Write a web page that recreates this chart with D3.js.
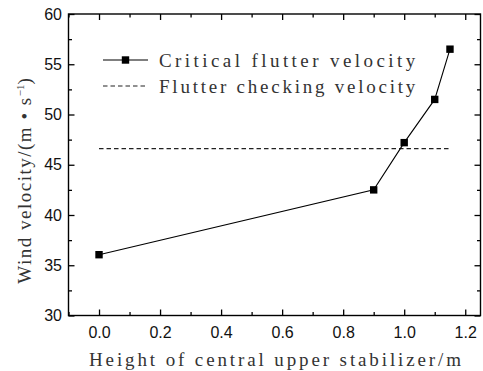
<!DOCTYPE html>
<html>
<head>
<meta charset="utf-8">
<script src="https://cdn.jsdelivr.net/npm/d3@7"></script>
<style>
  body { margin: 0; background: #fff; }
  svg { display: block; }
  .tick text { font-family: "Liberation Sans", Arial, sans-serif; }
</style>
</head>
<body>
<div id="chart"></div>
<script>
// data
var heights = [0, 0.9, 1.0, 1.1, 1.15];
var criticalVelocity = [36.05, 42.5, 47.2, 51.5, 56.5];
var checkingVelocity = 46.6;
var checkingRange = [0, 1.15];
var xTicks = [0, 0.2, 0.4, 0.6, 0.8, 1.0, 1.2];
var yTicks = [30, 35, 40, 45, 50, 55, 60];
var seriesNames = ["Critical flutter velocity", "Flutter checking velocity"];

var W = 483, H = 371;
var margin = {top: 14, right: 2.5, bottom: 55.5, left: 68.5},
    width = W - margin.left - margin.right,
    height = H - margin.top - margin.bottom;

var svg = d3.select("#chart").append("svg")
    .attr("width", W)
    .attr("height", H)
  .append("g")
    .attr("transform", "translate(" + margin.left + "," + margin.top + ")");

var x = d3.scaleLinear().domain([-0.1, 1.25]).range([0, width]);
var y = d3.scaleLinear().domain([30, 60]).range([height, 0]);

var xMinor = d3.range(-0.1, 1.26, 0.1).filter(function(v) {
  return xTicks.every(function(t) { return Math.abs(t - v) > 1e-6; });
});
var yMinor = d3.range(32.5, 60, 5);

// inward ticks on all four sides
function tickAxis(axis, vals, len, labels) {
  return axis.tickValues(vals).tickSizeInner(-len).tickSizeOuter(0)
    .tickPadding(len + 5)
    .tickFormat(labels ? null : "");
}

var gx = svg.append("g").attr("transform", "translate(0," + height + ")")
  .call(tickAxis(d3.axisBottom(x), xTicks, 6, true).tickFormat(d3.format(".1f")));
svg.append("g").attr("transform", "translate(0," + height + ")")
  .call(tickAxis(d3.axisBottom(x), xMinor, 3.5, false));
svg.append("g").call(tickAxis(d3.axisTop(x), xTicks, 6, false));
svg.append("g").call(tickAxis(d3.axisTop(x), xMinor, 3.5, false));

var gy = svg.append("g")
  .call(tickAxis(d3.axisLeft(y), yTicks, 6, true).tickFormat(d3.format("d")));
svg.append("g").call(tickAxis(d3.axisLeft(y), yMinor, 3.5, false));
svg.append("g").attr("transform", "translate(" + width + ",0)")
  .call(tickAxis(d3.axisRight(y), yTicks, 6, false));
svg.append("g").attr("transform", "translate(" + width + ",0)")
  .call(tickAxis(d3.axisRight(y), yMinor, 3.5, false));

svg.selectAll(".domain").remove();
svg.selectAll(".tick line").attr("stroke", "#000").attr("stroke-width", 1.3);
svg.selectAll(".tick text").attr("font-size", 16).attr("fill", "#111");
gx.selectAll(".tick text").attr("dy", "0.71em").attr("y", 11);
gy.selectAll(".tick text").attr("x", -6.5);

// frame
svg.append("rect")
  .attr("width", width).attr("height", height)
  .attr("fill", "none").attr("stroke", "#000").attr("stroke-width", 1.4);

// checking velocity (dashed)
svg.append("line")
  .attr("x1", x(checkingRange[0])).attr("x2", x(checkingRange[1]))
  .attr("y1", y(checkingVelocity)).attr("y2", y(checkingVelocity))
  .attr("stroke", "#222").attr("stroke-width", 1.1)
  .attr("stroke-dasharray", "4.5,3");

// critical flutter velocity
var pts = heights.map(function(h, i) { return [h, criticalVelocity[i]]; });
var line = d3.line().x(function(d) { return x(d[0]); }).y(function(d) { return y(d[1]); });
svg.append("path").datum(pts)
  .attr("d", line).attr("fill", "none")
  .attr("stroke", "#000").attr("stroke-width", 1.1);
svg.selectAll(".pt").data(pts).enter().append("rect")
  .attr("class", "pt")
  .attr("x", function(d) { return x(d[0]) - 3.7; })
  .attr("y", function(d) { return y(d[1]) - 3.7; })
  .attr("width", 7.4).attr("height", 7.4)
  .attr("fill", "#000");

// legend
var serif = "'Liberation Serif', 'DejaVu Serif', serif";
var lg = svg.append("g").attr("transform", "translate(" + (103 - margin.left) + "," + (60 - margin.top) + ")");
lg.append("line").attr("x1", 0).attr("x2", 45).attr("y1", 0).attr("y2", 0)
  .attr("stroke", "#000").attr("stroke-width", 1.1);
lg.append("rect").attr("x", 22.5 - 3.7).attr("y", -3.7).attr("width", 7.4).attr("height", 7.4).attr("fill", "#000");
lg.append("line").attr("x1", 0).attr("x2", 45).attr("y1", 26).attr("y2", 26)
  .attr("stroke", "#222").attr("stroke-width", 1.1).attr("stroke-dasharray", "4.5,3");
lg.selectAll(".lt").data(seriesNames).enter().append("text")
  .attr("x", 56).attr("y", function(d, i) { return i * 26 + 6.5; })
  .attr("font-family", serif).attr("font-size", 19).attr("fill", "#333")
  .attr("textLength", function(d) { return d.length * 10.33 - 2; })
  .attr("lengthAdjust", "spacing")
  .text(function(d) { return d; });

// axis titles
svg.append("text")
  .attr("x", (88 + 462) / 2 - margin.left).attr("y", 366 - margin.top)
  .attr("text-anchor", "middle")
  .attr("font-family", serif).attr("font-size", 19).attr("fill", "#333")
  .attr("textLength", 372).attr("lengthAdjust", "spacing")
  .text("Height of central upper stabilizer/m");

var yt = svg.append("text")
  .attr("transform", "translate(" + (31 - margin.left) + "," + (181 - margin.top) + ") rotate(-90)")
  .attr("text-anchor", "middle")
  .attr("font-family", serif).attr("font-size", 19).attr("fill", "#333");
yt.append("tspan").attr("textLength", 186).attr("lengthAdjust", "spacing").text("Wind velocity/(m \u2022 s");
yt.append("tspan").attr("dy", -7).attr("font-size", 11).text("\u22121");
yt.append("tspan").attr("dy", 7).text(")");
</script>
</body>
</html>
